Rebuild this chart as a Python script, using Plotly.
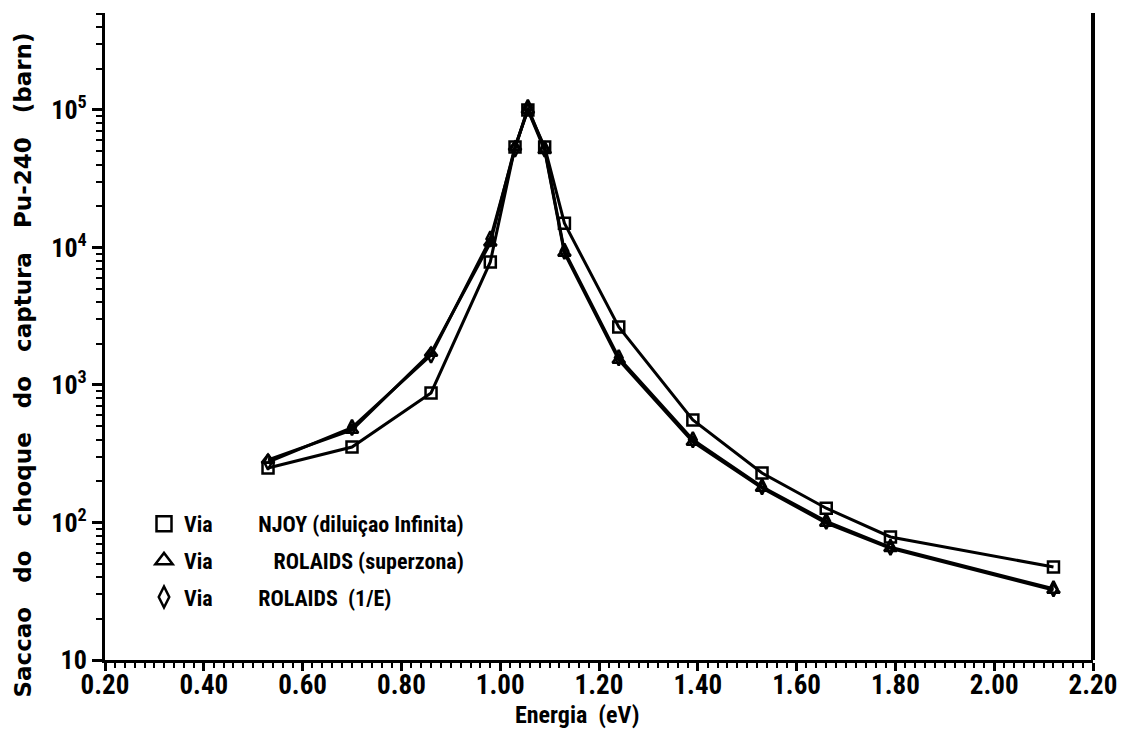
import plotly.graph_objects as go

# Energy (eV)
energia = [0.53, 0.70, 0.86, 0.98, 1.03, 1.056, 1.09, 1.13, 1.24, 1.39, 1.53, 1.66, 1.79, 2.12]
# Capture cross sections (barn)
njoy = [249, 354, 875, 7850, 53800, 100000, 53800, 15000, 2640, 556, 229, 127, 78.5, 47.4]
rolaids_superzona = [285, 471, 1710, 10800, 53800, 100000, 51000, 9120, 1520, 385, 178, 99, 65, 32.3]
rolaids_1E = [275, 490, 1650, 11500, 52000, 104000, 52000, 9400, 1580, 400, 182, 102, 66, 33]

NB = "\u00a0"
series_names = ["Via" + NB * 9 + "NJOY" + NB + "(diluiçao" + NB + "Infinita)",
                "Via" + NB * 12 + "ROLAIDS" + NB + "(superzona)",
                "Via" + NB * 9 + "ROLAIDS" + NB * 2 + "(1/E)"]
symbols = ["square-open", "triangle-up-open", "diamond-tall-open"]

x_ticks = [0.20, 0.40, 0.60, 0.80, 1.00, 1.20, 1.40, 1.60, 1.80, 2.00, 2.20]
y_ticks = [10, 100, 1000, 10000, 100000]
y_ticktext = ["10", "10<sup>2</sup>", "10<sup>3</sup>", "10<sup>4</sup>", "10<sup>5</sup>"]
y_minor = [m * 10 ** d for d in range(1, 6) for m in range(2, 10)]

FONT = "Liberation Sans Narrow, Roboto Condensed, Liberation Sans, Arial, sans-serif"
TFONT = "DejaVu Sans, Verdana, sans-serif"

fig = go.Figure()
for ys, sym in zip([njoy, rolaids_superzona, rolaids_1E], symbols):
    fig.add_trace(go.Scatter(
        x=energia, y=ys, mode="lines+markers", showlegend=False,
        line=dict(color="black", width=3),
        marker=dict(symbol=sym, size=11, color="black", line=dict(color="black", width=2.5)),
    ))
for i, (name, sym) in enumerate(zip(series_names, symbols)):
    fig.add_trace(go.Scatter(
        x=[None], y=[None], mode="markers", name=name, legendgroup=f"g{i}",
        marker=dict(symbol=sym, size=15, color="black", line=dict(color="black", width=2.5)),
    ))

fig.update_layout(
    width=1125, height=731,
    margin=dict(l=105, r=32, t=13, b=71),
    paper_bgcolor="white", plot_bgcolor="white",
    font=dict(family=FONT, size=22, color="black", weight="bold"),
    showlegend=True,
    legend=dict(x=(144 - 105) / 988, y=(660 - 503) / 647, xanchor="left", yanchor="top",
                bgcolor="rgba(0,0,0,0)", borderwidth=0, tracegroupgap=5,
                font=dict(family=FONT, size=22, color="black", weight="bold")),
    xaxis=dict(range=[0.2, 2.2], tickvals=x_ticks, tickformat=".2f", automargin=False,
               showgrid=False, zeroline=False, showline=True, linecolor="black", linewidth=3,
               ticks="outside", ticklen=8, tickwidth=2.5, tickcolor="black", ticklabelstandoff=-9,
               minor=dict(dtick=0.02, tick0=0.2, ticks="outside", ticklen=5, tickwidth=2,
                          tickcolor="black", showgrid=False),
               tickfont=dict(family=FONT, size=27, color="black", weight="bold")),
    yaxis=dict(type="log", range=[1, 5.705], tickvals=y_ticks, ticktext=y_ticktext, automargin=False,
               showgrid=False, zeroline=False, showline=True, linecolor="black", linewidth=3,
               ticks="outside", ticklen=10, tickwidth=2.5, tickcolor="black",
               minor=dict(tickvals=y_minor, ticks="outside", ticklen=6, tickwidth=2,
                          tickcolor="black", showgrid=False),
               tickfont=dict(family=FONT, size=26, color="black", weight="bold")),
)

# right frame line
fig.add_shape(type="line", xref="paper", yref="paper", x0=1, x1=1, y0=0, y1=1,
              line=dict(color="black", width=4))

# axis titles
fig.add_annotation(text="Energia" + NB * 2 + "(eV)", xref="paper", yref="paper",
                   x=(577 - 105) / 988, y=(660 - 715) / 647, xanchor="center", yanchor="middle",
                   showarrow=False, font=dict(family=FONT, size=24, color="black", weight="bold"))
g = NB * 3
fig.add_annotation(text="Saccao" + g + "do" + g + "choque" + g + "do" + g + "captura" + g + "Pu-240" + g + "(barn)",
                   xref="paper", yref="paper", textangle=-90,
                   x=(22 - 105) / 988, y=(660 - 700) / 647, xanchor="center", yanchor="bottom",
                   showarrow=False, font=dict(family=TFONT, size=23, color="black", weight="bold"))

fig.write_html("out.html", config={"displayModeBar": False},
               post_script="document.body.style.margin='0';")
